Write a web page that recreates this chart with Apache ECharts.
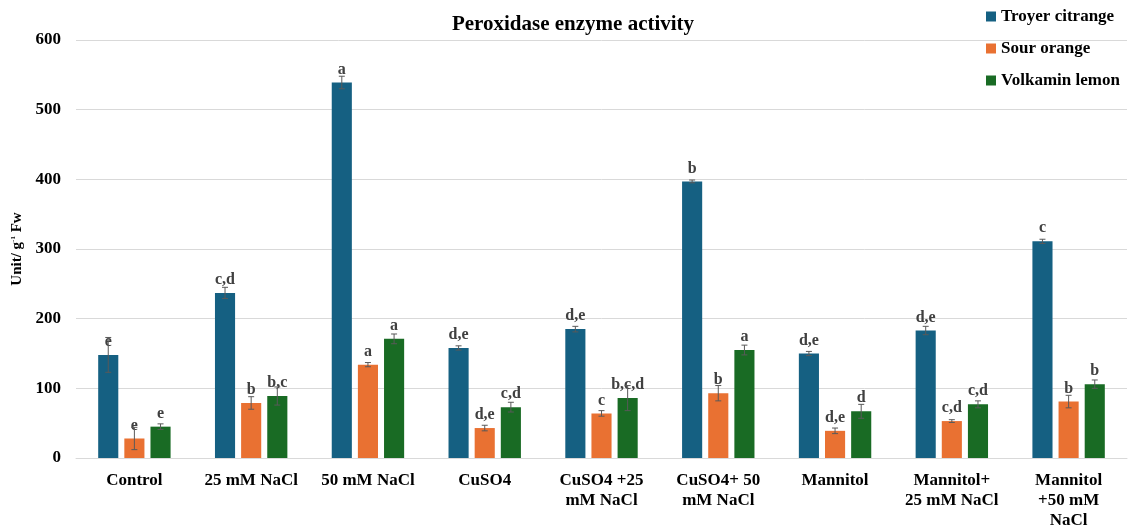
<!DOCTYPE html>
<html>
<head>
<meta charset="utf-8">
<title>Peroxidase enzyme activity</title>
<script src="https://cdn.jsdelivr.net/npm/echarts@6/dist/echarts.min.js"></script>
<style>
  html, body { margin: 0; padding: 0; background: #fff; }
  #chart { width: 1130px; height: 531px; }
</style>
</head>
<body>
<div id="chart"></div>
<script>
// Treatments on the category axis
const categories = [
  'Control', '25 mM NaCl', '50 mM NaCl', 'CuSO4',
  'CuSO4 +25\nmM NaCl', 'CuSO4+ 50\nmM NaCl', 'Mannitol',
  'Mannitol+\n25 mM NaCl', 'Mannitol\n+50 mM\nNaCl'
];

// Rootstock names
const seriesNames = ['Troyer citrange', 'Sour orange', 'Volkamin lemon'];

// Mean peroxidase activity (Unit/ g Fw)
const troyerValues   = [148, 237, 539, 158, 185, 397, 150, 183, 311];
const sourValues     = [28, 79, 134, 43, 64, 93, 39, 53, 81];
const volkaminValues = [45, 89, 171, 73, 86, 155, 67, 77, 106];

// Standard error of each mean
const troyerErrors   = [25, 8, 9, 3, 4, 2, 3, 6, 3];
const sourErrors     = [16, 9, 3, 4, 4, 11, 4, 2, 9];
const volkaminErrors = [4, 13, 7, 7, 18, 7, 10, 5, 6];

// Significance letters
const troyerLetters   = ['e', 'c,d', 'a', 'd,e', 'd,e', 'b', 'd,e', 'd,e', 'c'];
const sourLetters     = ['e', 'b', 'a', 'd,e', 'c', 'b', 'd,e', 'c,d', 'b'];
const volkaminLetters = ['e', 'b,c', 'a', 'c,d', 'b,c,d', 'a', 'd', 'c,d', 'b'];

// Y axis ticks
const yMin = 0, yMax = 600, yStep = 100;

const seriesValues  = [troyerValues, sourValues, volkaminValues];
const seriesErrors  = [troyerErrors, sourErrors, volkaminErrors];
const seriesLetters = [troyerLetters, sourLetters, volkaminLetters];
const colors = ['#156082', '#E97132', '#196B24'];

const SERIF = '"Liberation Serif", "Times New Roman", serif';
const CAT_GAP = 0.38, BAR_GAP = 0.3;

function errorSeries(si) {
  return {
    type: 'custom',
    name: seriesNames[si] + ' error',
    z: 5,
    silent: true,
    data: seriesValues[si].map((v, i) => [i, v, seriesErrors[si][i]]),
    renderItem: function (params, api) {
      const ci = api.value(0), v = api.value(1), e = api.value(2);
      const band = api.size([1, 0])[0];
      const n = seriesValues.length;
      const barW = band * (1 - CAT_GAP) / (n + (n - 1) * BAR_GAP);
      const offset = (si - (n - 1) / 2) * barW * (1 + BAR_GAP);
      const hi = api.coord([ci, v + e]);
      const lo = api.coord([ci, v - e]);
      const x = hi[0] + offset;
      const cap = 3;
      const style = { stroke: '#595959', lineWidth: 1 };
      return {
        type: 'group',
        children: [
          { type: 'line', shape: { x1: x, y1: hi[1], x2: x, y2: lo[1] }, style },
          { type: 'line', shape: { x1: x - cap, y1: hi[1], x2: x + cap, y2: hi[1] }, style },
          { type: 'line', shape: { x1: x - cap, y1: lo[1], x2: x + cap, y2: lo[1] }, style }
        ]
      };
    }
  };
}

const barSeries = seriesNames.map((name, si) => ({
  type: 'bar',
  name: name,
  data: seriesValues[si],
  barCategoryGap: (CAT_GAP * 100) + '%',
  barGap: (BAR_GAP * 100) + '%',
  itemStyle: { color: colors[si] },
  label: {
    show: true,
    position: 'top',
    distance: 5,
    formatter: p => seriesLetters[si][p.dataIndex],
    color: '#404040',
    fontFamily: SERIF,
    fontWeight: 'bold',
    fontSize: 16
  }
}));

const chart = echarts.init(document.getElementById('chart'), null, { renderer: 'canvas' });
chart.setOption({
  animation: false,
  backgroundColor: '#fff',
  title: {
    text: 'Peroxidase enzyme activity',
    left: 568,
    textAlign: 'center',
    top: 9,
    textStyle: { fontFamily: SERIF, fontWeight: 'bold', fontSize: 21, color: '#000' }
  },
  legend: {
    data: seriesNames,
    orient: 'vertical',
    left: 986,
    top: 8,
    padding: 0,
    itemWidth: 10,
    itemHeight: 10,
    itemGap: 15,
    icon: 'rect',
    textStyle: { fontFamily: SERIF, fontWeight: 'bold', fontSize: 17, color: '#000' }
  },
  grid: { left: 76, right: 3, top: 40, bottom: 69, containLabel: false },
  xAxis: {
    type: 'category',
    data: categories,
    axisLine: { lineStyle: { color: '#d9d9d9' } },
    axisTick: { show: false },
    axisLabel: {
      interval: 0,
      margin: 13,
      fontFamily: SERIF,
      fontWeight: 'bold',
      fontSize: 17,
      lineHeight: 20,
      color: '#000'
    }
  },
  yAxis: {
    type: 'value',
    min: yMin,
    max: yMax,
    interval: yStep,
    name: 'Unit/ g{sup|-1} Fw',
    nameLocation: 'middle',
    nameGap: 50,
    nameRotate: 90,
    nameTextStyle: {
      fontFamily: SERIF, fontWeight: 'bold', fontSize: 15, color: '#000',
      rich: { sup: { fontFamily: SERIF, fontSize: 7, verticalAlign: 'top', color: '#000' } }
    },
    axisLine: { show: false },
    axisTick: { show: false },
    splitLine: { lineStyle: { color: '#d9d9d9' } },
    axisLabel: { margin: 15, fontFamily: SERIF, fontWeight: 'bold', fontSize: 17, color: '#000' }
  },
  series: barSeries.concat(seriesNames.map((_, si) => errorSeries(si)))
});
</script>
</body>
</html>
